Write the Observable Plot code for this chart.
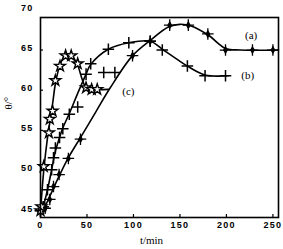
<!DOCTYPE html>
<html><head><meta charset="utf-8">
<script src="https://cdn.jsdelivr.net/npm/d3@7"></script>
<script src="https://cdn.jsdelivr.net/npm/@observablehq/plot@0.6"></script>
<style>
body{margin:0;background:#fff}
g[aria-label="x-axis tick label"] text, g[aria-label="y-axis tick label"] text{letter-spacing:1.3px}
</style>
</head><body><div id="chart"></div>
<script>
const xTicks = [0, 50, 100, 150, 200, 250];
const yTicks = [45, 50, 55, 60, 65, 70];
const xLabel = "t/min";
const yLabel = "θ/°";
const seriesLabels = ["(a)", "(b)", "(c)"];
const labelT = [220, 216, 88];
const labelV = [66.8, 61.8, 59.9];

// fitted curves
const aLineT = [0, 5, 10, 20, 30, 43, 60, 75, 99, 118, 138, 150, 162, 180, 199, 215, 256];
const aLineV = [45, 45.6, 46.8, 49.3, 51.6, 54.1, 57.4, 60.3, 64.3, 66.2, 67.9, 68.2, 68.0, 66.9, 65.2, 65.0, 65.0];
const bLineT = [0, 3, 7.5, 12, 16, 20.5, 24, 31, 40, 49, 54, 73, 95, 118, 131, 145, 158, 177, 202];
const bLineV = [45, 45.6, 47.6, 50.1, 52.4, 54.1, 55.3, 57.1, 59.6, 62, 63.2, 65.1, 65.9, 66.1, 65.1, 64.0, 63.0, 61.9, 61.8];
const cLineT = [0, 2, 4, 7, 10, 13, 16, 20, 25, 30, 35, 40, 45, 49, 55, 73];
const cLineV = [45, 48, 50.6, 53.6, 56, 58.3, 60.8, 62.8, 64.1, 64.4, 64.1, 63.1, 61.3, 60.3, 60.1, 60.1];

// measured points
const aMarkT = [0, 5, 10, 14, 20, 30, 43, 99, 118, 139, 159, 180, 199, 228, 250];
const aMarkV = [45, 45.3, 46.4, 48, 49.5, 51.5, 53.9, 64.3, 66.1, 68.1, 68.1, 67.0, 65.0, 65.0, 65.0];
const bMarkT = [0, 3, 7.5, 12, 14, 16, 20.5, 24, 31, 40, 49, 54, 68, 80, 73, 95, 118, 131, 158, 177, 199];
const bMarkV = [45, 45.5, 47.6, 50.1, 51.6, 52.8, 54.1, 55.2, 57.0, 57.9, 62, 63.3, 62.2, 62.2, 65.1, 65.9, 66.1, 65.0, 63.0, 61.8, 61.8];
const cMarkT = [0, 1, 3.5, 9, 10, 13, 16, 21, 27, 33, 40, 49, 55, 61];
const cMarkV = [45, 45.5, 50.5, 54.7, 56.4, 57.4, 61.2, 63, 64.3, 64.3, 63.3, 60.3, 60.1, 60.1];

const pts = (T, V) => T.map((t, i) => ({t, v: V[i]}));
const aLine = pts(aLineT, aLineV), bLine = pts(bLineT, bLineV), cLine = pts(cLineT, cLineV);
const aMark = pts(aMarkT, aMarkV), bMark = pts(bMarkT, bMarkV), cMark = pts(cMarkT, cMarkV);
const labels = seriesLabels.map((s, i) => ({s, t: labelT[i], v: labelV[i]}));

const tickFont = {fontFamily: "Liberation Sans, Arial, sans-serif", fontWeight: "bold", fontSize: 9};
const serif = "Liberation Serif, Times New Roman, serif";

const chart = Plot.plot({
  width: 283, height: 249,
  marginLeft: 40, marginRight: 5, marginTop: 17, marginBottom: 32,
  x: {domain: [0, 256]},
  y: {domain: [44.15, 69.05]},
  style: {background: "#fff", color: "#000"},
  marks: [
    Plot.axisX({ticks: xTicks, tickSize: 0, tickPadding: 4, label: null, ...tickFont}),
    Plot.axisY({ticks: yTicks, tickSize: 0, tickPadding: 7, dy: -2, label: null, ...tickFont}),
    Plot.ruleX(xTicks, {x: d => d, insetTop: 197, strokeWidth: 1.2}),
    Plot.ruleY(yTicks.filter(d => d < 69), {y: d => d, insetRight: 235, strokeWidth: 1.2}),
    Plot.line(aLine, {x: "t", y: "v", curve: "catmull-rom", strokeWidth: 1.6}),
    Plot.line(bLine, {x: "t", y: "v", curve: "catmull-rom", strokeWidth: 1.6}),
    Plot.line(cLine, {x: "t", y: "v", curve: "catmull-rom", strokeWidth: 1.6}),
    Plot.dot(aMark, {x: "t", y: "v", symbol: "diamond", r: 2.6, fill: "#000", stroke: "none"}),
    Plot.dot(aMark, {x: "t", y: "v", symbol: "plus", r: 3.8, stroke: "#000", strokeWidth: 1.3}),
    Plot.dot(bMark, {x: "t", y: "v", symbol: "plus", r: 3.8, stroke: "#000", strokeWidth: 1.5}),
    Plot.dot(cMark, {x: "t", y: "v", symbol: "star", r: 3.4, fill: "#fff", stroke: "#000", strokeWidth: 1.4}),
    Plot.text(labels, {x: "t", y: "v", text: "s", textAnchor: "start", fontFamily: serif, fontSize: 11}),
    Plot.text([xLabel], {frameAnchor: "bottom", dx: -8, dy: 26, fontFamily: serif, fontSize: 11}),
    Plot.text([yLabel], {frameAnchor: "left", dx: -32, dy: -8, rotate: -90, fontFamily: serif, fontSize: 11}),
    Plot.frame({strokeWidth: 1.6})
  ]
});
document.getElementById("chart").appendChild(chart);
</script>
</body></html>
